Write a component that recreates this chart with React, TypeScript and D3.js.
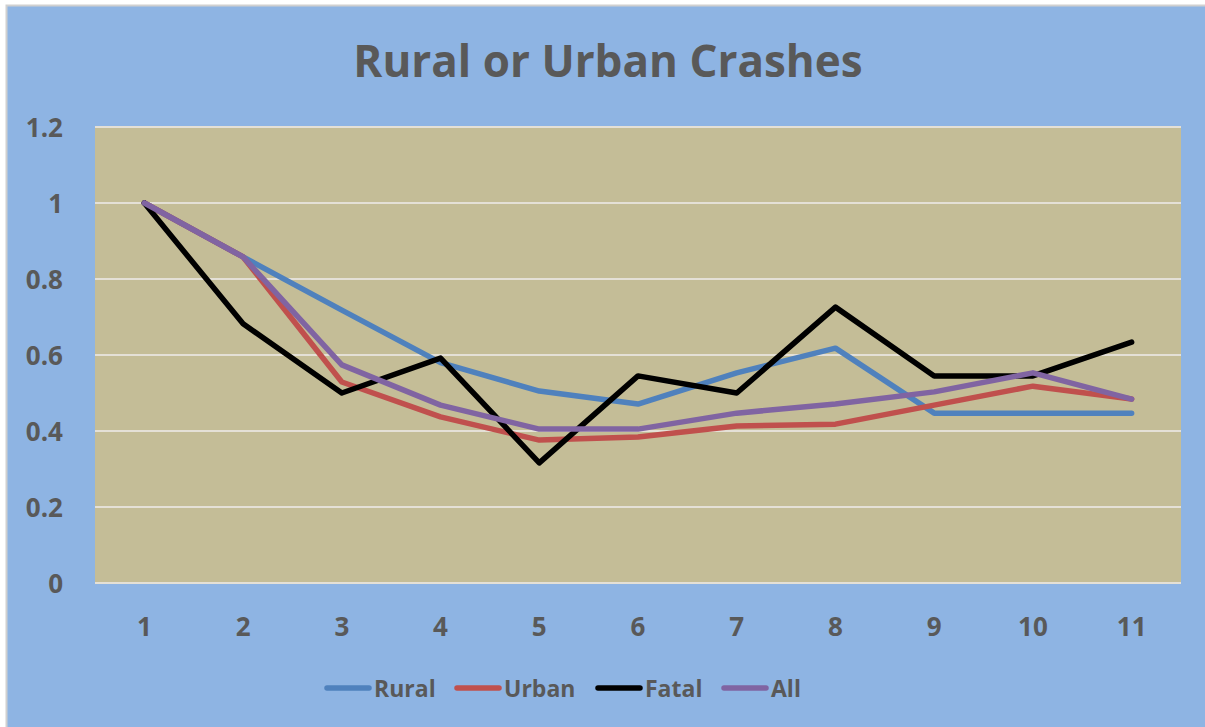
import React from "react";
import * as d3 from "d3";

const categories = ["1", "2", "3", "4", "5", "6", "7", "8", "9", "10", "11"];
const yTicks = [0, 0.2, 0.4, 0.6, 0.8, 1, 1.2];
const rural = [1.0, 0.858, 0.718, 0.58, 0.505, 0.471, 0.553, 0.618, 0.447, 0.447, 0.447];
const urban = [1.0, 0.858, 0.529, 0.437, 0.376, 0.384, 0.413, 0.418, 0.468, 0.518, 0.484];
const fatal = [1.0, 0.682, 0.5, 0.592, 0.316, 0.545, 0.5, 0.726, 0.545, 0.545, 0.634];
const all = [1.0, 0.858, 0.574, 0.468, 0.405, 0.405, 0.447, 0.471, 0.503, 0.553, 0.484];

const seriesNames = ["Rural", "Urban", "Fatal", "All"];
const seriesColors = ["#4F81BD", "#C0504D", "#000000", "#8064A2"];
const seriesData = [rural, urban, fatal, all];

const W = 1205;
const H = 727;
const plot = { left: 95, right: 1181, top: 127, bottom: 583 };
const FONT = "'Open Sans', Lato, sans-serif";
const TEXT = "#595959";

export default function App() {
  const x = d3
    .scaleBand<string>()
    .domain(categories)
    .range([plot.left, plot.right]);
  const y = d3.scaleLinear().domain([0, 1.2]).range([plot.bottom, plot.top]);
  const line = d3
    .line<number>()
    .x((_, i) => (x(categories[i]) as number) + x.bandwidth() / 2)
    .y((d) => y(d));

  const legendItems = [
    { x: 325, label: "Rural" },
    { x: 455, label: "Urban" },
    { x: 596, label: "Fatal" },
    { x: 722, label: "All" },
  ];

  return (
    <svg
      width={W}
      height={H}
      style={{ position: "absolute", left: 0, top: 0, display: "block" }}
    >
      <rect x={0} y={0} width={W} height={H} fill="#ffffff" />
      <rect x={6.5} y={5.5} width={W} height={H} fill="#8EB4E3" stroke="#D0D0D0" strokeWidth={2} />
      <text
        x={608}
        y={77}
        textAnchor="middle"
        fontFamily={FONT}
        fontWeight="bold"
        fontSize={44}
        fill={TEXT}
      >
        Rural or Urban Crashes
      </text>
      <rect
        x={plot.left}
        y={plot.top}
        width={plot.right - plot.left}
        height={plot.bottom - plot.top}
        fill="#C4BD97"
      />
      {yTicks.map((t) => (
        <g key={t}>
          <line
            x1={plot.left}
            x2={plot.right}
            y1={y(t)}
            y2={y(t)}
            stroke="#E4E0D6"
            strokeWidth={2}
          />
          <text
            x={63}
            y={y(t) + 10}
            textAnchor="end"
            fontFamily={FONT}
            fontWeight="bold"
            fontSize={26}
            fill={TEXT}
          >
            {String(t)}
          </text>
        </g>
      ))}
      {categories.map((c) => (
        <text
          key={c}
          x={(x(c) as number) + x.bandwidth() / 2}
          y={636}
          textAnchor="middle"
          fontFamily={FONT}
          fontWeight="bold"
          fontSize={26}
          fill={TEXT}
        >
          {c}
        </text>
      ))}
      {seriesData.map((s, i) => (
        <path
          key={seriesNames[i]}
          d={line(s) || ""}
          fill="none"
          stroke={seriesColors[i]}
          strokeWidth={5.5}
          strokeLinejoin="round"
          strokeLinecap="round"
        />
      ))}
      {legendItems.map((it, i) => (
        <g key={it.label}>
          <line
            x1={it.x + 2}
            x2={it.x + 44}
            y1={688}
            y2={688}
            stroke={seriesColors[i]}
            strokeWidth={5.5}
            strokeLinecap="round"
          />
          <text
            x={it.x + 49}
            y={697}
            fontFamily={FONT}
            fontWeight="bold"
            fontSize={23}
            fill={TEXT}
          >
            {it.label}
          </text>
        </g>
      ))}
    </svg>
  );
}
